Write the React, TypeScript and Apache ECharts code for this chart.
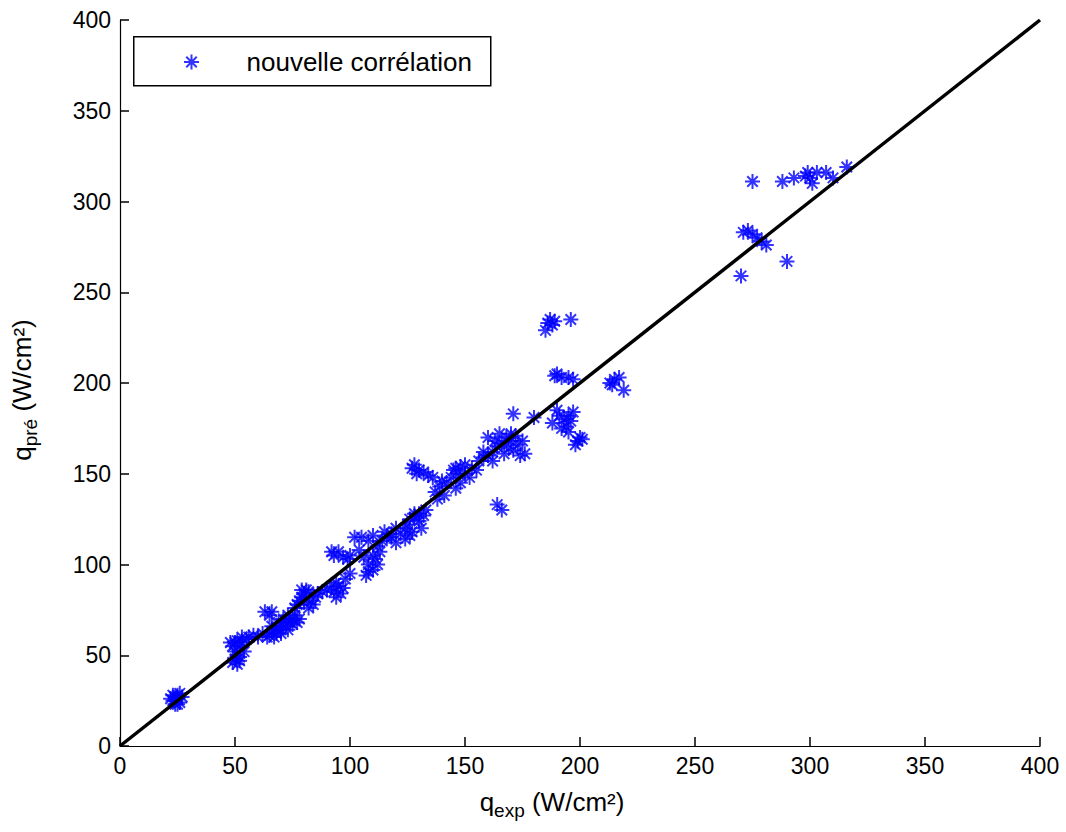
import React, { useEffect, useRef } from "react";
import * as echarts from "echarts";

const xTicks = [0, 50, 100, 150, 200, 250, 300, 350, 400];
const yTicks = [0, 50, 100, 150, 200, 250, 300, 350, 400];
const legendLabel = "nouvelle corrélation";
const identityLine = [[0, 0], [400, 400]];

const cluster25 = [
  [22, 26], [23, 25], [24, 27], [25, 28], [26, 24], [24, 23], [27, 27], [25, 26], [23, 28], [26, 29], [25, 23],
];
const cluster50 = [
  [49, 46], [50, 48], [51, 50], [50, 52], [52, 55], [50, 57], [51, 58], [53, 60], [52, 49], [54, 52],
  [49, 55], [51, 45], [53, 57], [55, 59], [48, 57], [56, 60], [58, 61], [60, 60], [52, 47],
];
const cluster70 = [
  [63, 74], [66, 74], [65, 72], [62, 62], [64, 60], [66, 63], [68, 65], [70, 64], [72, 66], [74, 68],
  [66, 66], [69, 68], [71, 70], [73, 72], [75, 70], [76, 72], [65, 61], [67, 60], [70, 62], [73, 64],
  [75, 67], [77, 68], [78, 70], [76, 76], [77, 78], [78, 80], [79, 82], [80, 84], [81, 86], [79, 86],
  [82, 85], [80, 79], [83, 80], [85, 82], [84, 78], [82, 76], [86, 84], [88, 85], [72, 69], [68, 62],
];
const cluster95 = [
  [92, 107], [95, 107], [93, 105], [97, 104], [100, 105], [99, 103], [94, 90], [95, 88], [93, 85],
  [96, 84], [97, 87], [98, 92], [92, 88], [100, 95], [90, 86], [94, 82],
];
const cluster110 = [
  [102, 115], [105, 115], [108, 113], [110, 116], [104, 108], [106, 104], [108, 100], [110, 105],
  [112, 110], [108, 96], [107, 94], [110, 97], [112, 100], [114, 113], [116, 115], [115, 118],
  [118, 117], [120, 120], [113, 107], [111, 103],
];
const cluster125 = [
  [118, 115], [120, 112], [122, 117], [124, 120], [125, 122], [126, 125], [128, 126], [130, 128],
  [132, 127], [127, 118], [124, 114], [130, 124], [133, 130], [131, 120], [128, 128], [126, 116],
  [127, 153], [128, 155], [130, 152], [132, 151], [134, 149], [129, 150], [136, 148],
];
const cluster145 = [
  [137, 140], [139, 143], [140, 146], [142, 145], [144, 148], [145, 152], [146, 153], [148, 154],
  [150, 150], [152, 148], [148, 145], [146, 142], [150, 155], [153, 153], [155, 152], [141, 138],
  [138, 136], [147, 150],
];
const cluster165 = [
  [156, 157], [158, 159], [160, 160], [162, 162], [164, 165], [166, 167], [168, 170], [170, 168],
  [172, 171], [160, 170], [163, 168], [165, 172], [167, 161], [169, 164], [171, 163], [173, 166],
  [175, 168], [174, 160], [176, 161], [170, 172], [158, 162], [162, 157], [164, 133], [166, 130],
  [171, 183], [180, 181],
];
const cluster190 = [
  [185, 229], [186, 233], [187, 235], [188, 232], [189, 234], [196, 235],
  [189, 204], [190, 205], [192, 203], [195, 203], [197, 202],
  [213, 200], [215, 202], [217, 203], [219, 196], [214, 199],
  [188, 178], [190, 185], [191, 182], [193, 180], [194, 176], [195, 182], [196, 179], [192, 175],
  [197, 184], [199, 168], [200, 170], [198, 166], [201, 169], [195, 173],
];
const cluster280 = [
  [271, 283], [273, 284], [275, 282], [277, 280], [279, 278], [281, 276], [270, 259], [290, 267],
  [275, 311], [288, 311], [293, 313], [299, 316], [300, 313], [303, 316], [307, 316], [310, 313],
  [316, 319], [301, 310], [298, 314],
];

const allPoints = [
  ...cluster25, ...cluster50, ...cluster70, ...cluster95, ...cluster110,
  ...cluster125, ...cluster145, ...cluster165, ...cluster190, ...cluster280,
];

const STAR = "path://M0,-10L0,10M-10,0L10,0M-7,-7L7,7M-7,7L7,-7";
const FONT = "Liberation Sans, Arial, sans-serif";

export default function App() {
  const ref = useRef<HTMLDivElement>(null);
  useEffect(() => {
    if (!ref.current) return;
    const chart = echarts.init(ref.current, null, { renderer: "svg" });
    const axisCommon = {
      type: "value" as const,
      min: 0,
      max: 400,
      interval: 50,
      splitLine: { show: false },
      axisLine: { show: true, lineStyle: { color: "#000", width: 1.2 } },
      axisTick: { show: true, inside: true, length: 9, lineStyle: { color: "#000", width: 1.5 } },
      axisLabel: { color: "#000", fontSize: 23, fontFamily: FONT },
    };
    const rich = {
      a: { fontSize: 26, fontFamily: FONT, fill: "#000", color: "#000" },
      b: { fontSize: 19, fontFamily: FONT, fill: "#000", color: "#000", verticalAlign: "bottom", padding: [16, 0, 0, 0] },
    };
    chart.setOption({
      animation: false,
      backgroundColor: "#fff",
      grid: { left: 120, right: 26, top: 20, bottom: 86 },
      xAxis: {
        ...axisCommon,
        axisLabel: { ...axisCommon.axisLabel, margin: 8, formatter: (v: number) => (xTicks.includes(v) ? String(v) : "") },
      },
      yAxis: {
        ...axisCommon,
        axisLabel: { ...axisCommon.axisLabel, margin: 9, formatter: (v: number) => (yTicks.includes(v) ? String(v) : "") },
      },
      legend: {
        left: 178,
        top: 44,
        itemWidth: 100,
        itemHeight: 15,
        data: [
          {
            name: legendLabel,
            icon: STAR,
            itemStyle: { color: "rgba(0,0,0,0)", borderColor: "#0000ff", borderWidth: 2 },
          },
        ],
        textStyle: { color: "#000", fontSize: 26, fontFamily: FONT },
      },
      graphic: [
        {
          type: "rect",
          left: 133,
          top: 36,
          shape: { width: 357, height: 49 },
          style: { fill: "#fff", stroke: "#000", lineWidth: 1.5 },
          z: 0,
          zlevel: 0,
        },
        {
          type: "text",
          x: 552,
          y: 802,
          style: {
            text: "{a|q}{b|exp}{a| (W/cm²)}",
            align: "center",
            verticalAlign: "middle",
            rich,
          },
        },
        {
          type: "text",
          x: 22,
          y: 390,
          rotation: Math.PI / 2,
          style: {
            text: "{a|q}{b|pré}{a| (W/cm²)}",
            align: "center",
            verticalAlign: "middle",
            rich,
          },
        },
      ],
      series: [
        {
          name: legendLabel,
          type: "scatter",
          data: allPoints,
          symbol: STAR,
          symbolSize: 15,
          itemStyle: { color: "rgba(0,0,0,0)", borderColor: "#0000ff", borderWidth: 2 },
          z: 2,
        },
        {
          name: "y=x",
          type: "line",
          data: identityLine,
          symbol: "none",
          lineStyle: { color: "#000", width: 3.5 },
          z: 3,
        },
      ],
    });
    return () => chart.dispose();
  }, []);
  return <div ref={ref} style={{ width: 1066, height: 832, position: "absolute", left: 0, top: 0 }} />;
}
